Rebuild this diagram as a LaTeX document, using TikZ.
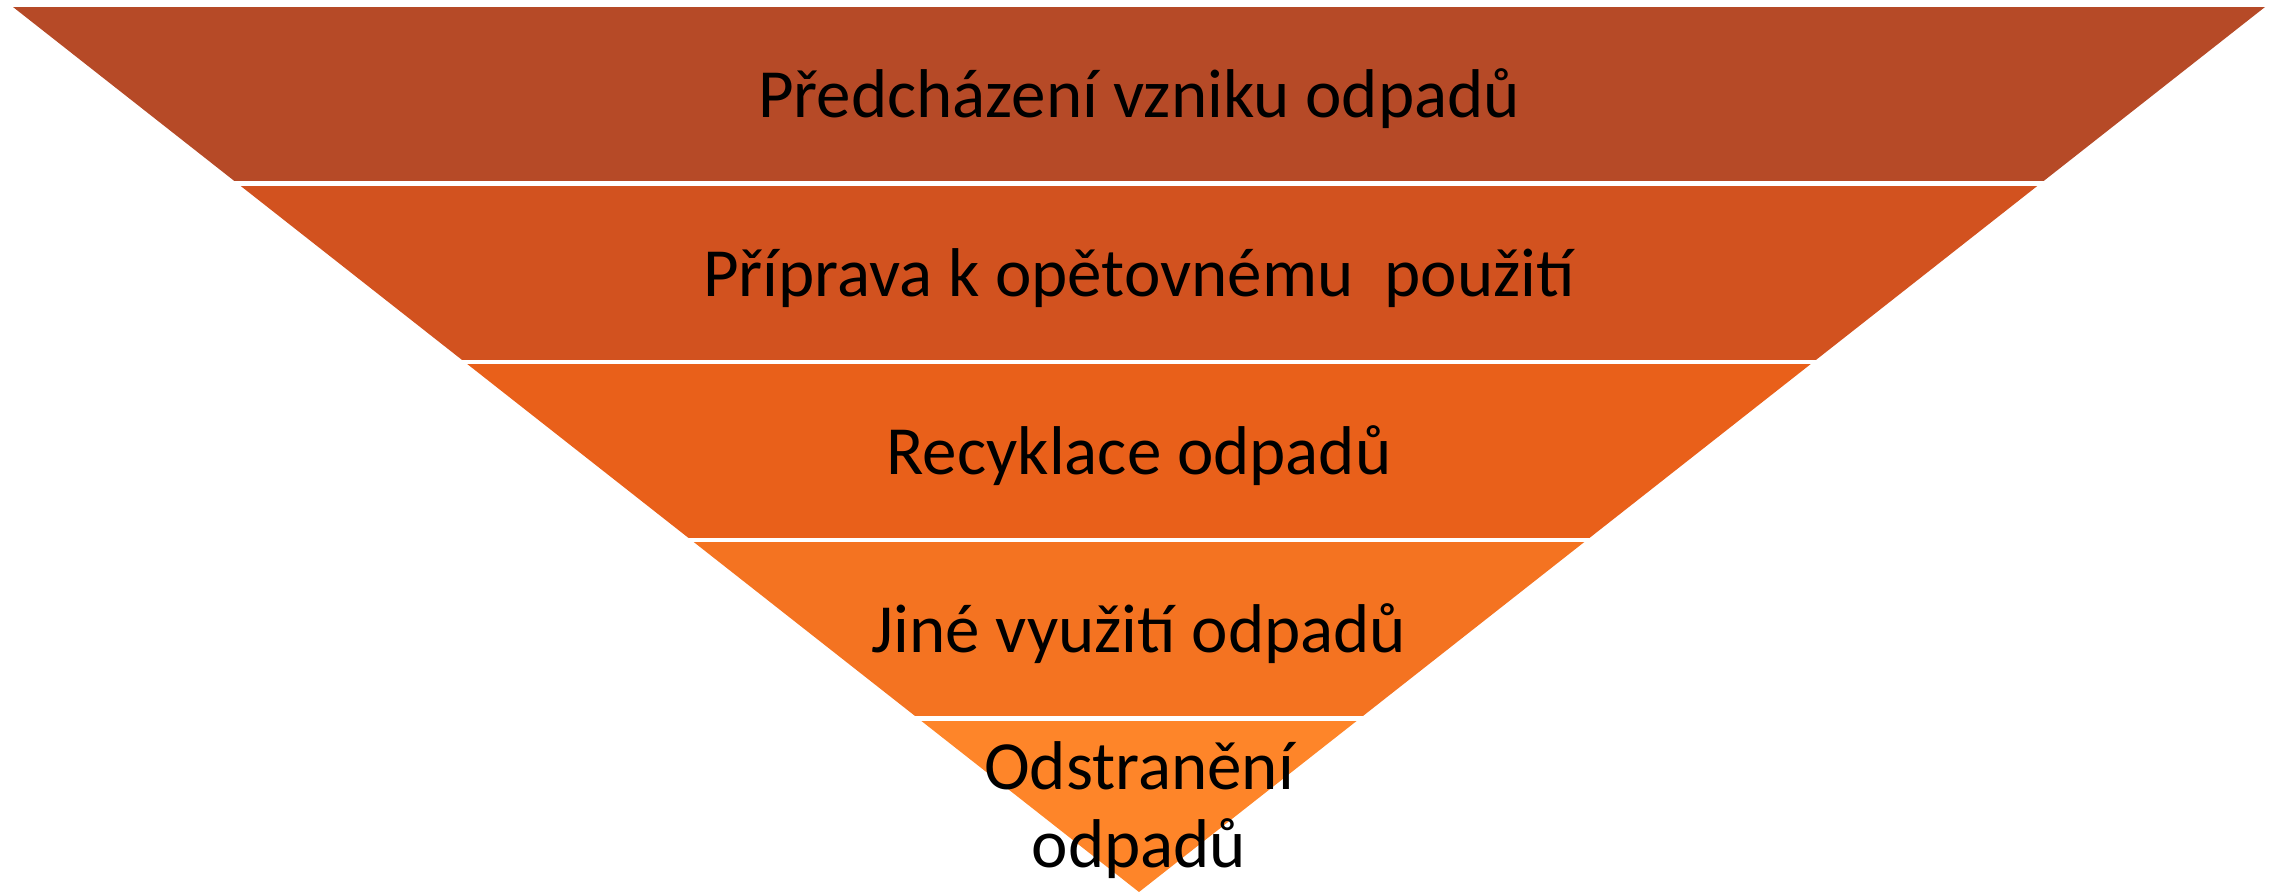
\documentclass[tikz,border=0pt]{standalone}
\usepackage{fontspec}
\setmainfont{Carlito}
\definecolor{bandA}{RGB}{182,74,39}
\definecolor{bandB}{RGB}{210,82,31}
\definecolor{bandC}{RGB}{233,96,26}
\definecolor{bandD}{RGB}{244,115,33}
\definecolor{bandE}{RGB}{254,133,41}
\begin{document}
\begin{tikzpicture}[x=1pt,y=-1pt,
  lbl/.style={anchor=base,inner sep=0pt,text=black,font=\fontsize{69}{78}\selectfont,align=center}]
\useasboundingbox (0,0) rectangle (2275,892);
\begin{scope}
  \clip (13,7) -- (2265,7) -- (1139,892) -- cycle;
  \fill[bandA] (0,7) rectangle (2275,181);
  \fill[bandB] (0,186) rectangle (2275,360);
  \fill[bandC] (0,364) rectangle (2275,538);
  \fill[bandD] (0,542) rectangle (2275,716);
  \fill[bandE] (0,721) rectangle (2275,892);
\end{scope}
\node[lbl] (t1) at (1139,117) {Předcházení vzniku odpadů};
\node[lbl] (t2) at (1139,296) {Příprava k opětovnému\hspace{0.45em}použití};
\node[lbl] (t3) at (1139,474) {Recyklace odpadů};
\node[lbl] (t4) at (1139,652) {Jiné využití odpadů};
\node[lbl] (t5) at (1139,867) {Odstranění\\odpadů};
\end{tikzpicture}
\end{document}
